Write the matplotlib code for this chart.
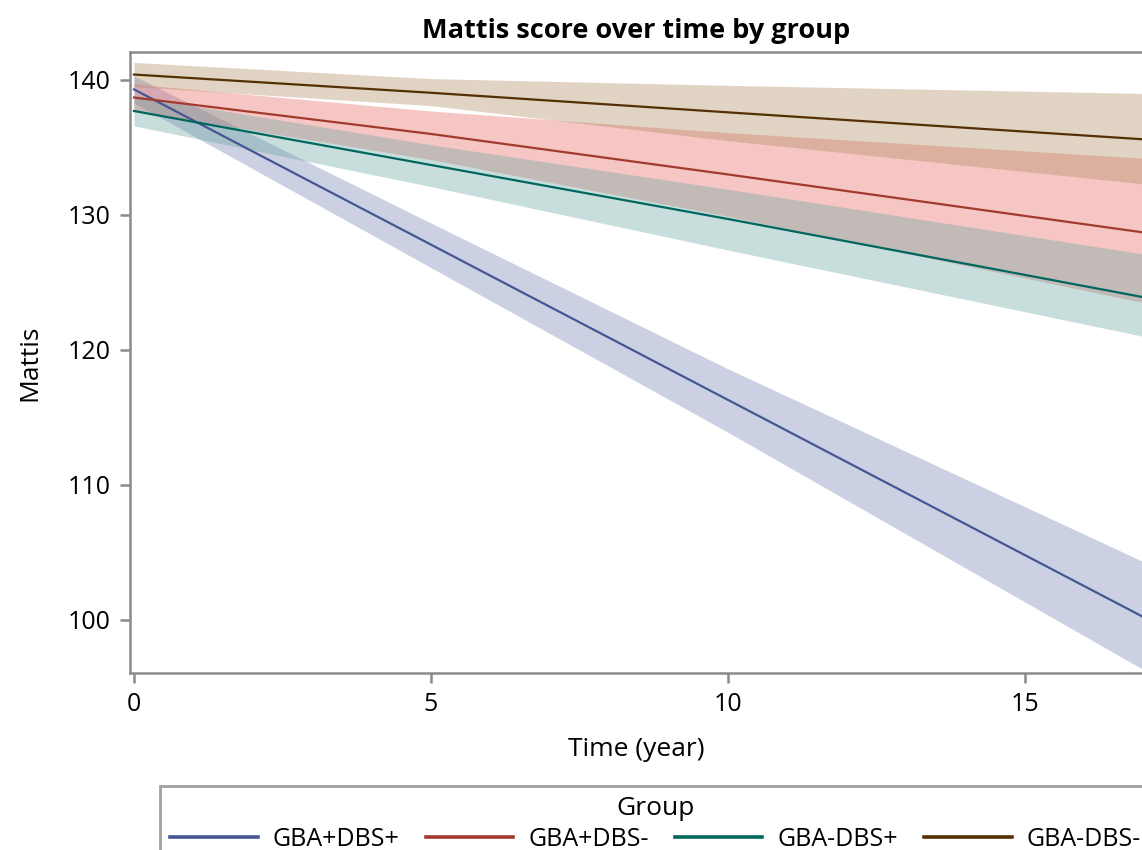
import numpy as np
import matplotlib.pyplot as plt

# time points (years) where values were read
time = [0, 5, 10, 17]

groups = ["GBA+DBS+", "GBA+DBS-", "GBA-DBS+", "GBA-DBS-"]

# estimated Mattis score per group
est_gba_dbs_pos = [139.3, 127.8, 116.3, 100.2]
est_gba_nodbs = [138.7, 136.0, 133.0, 128.7]
est_nogba_dbs = [137.7, 133.7, 129.7, 123.9]
est_nogba_nodbs = [140.4, 139.05, 137.6, 135.6]

# lower / upper confidence limits
lo_gba_dbs_pos = [138.3, 126.1, 113.9, 96.3]
hi_gba_dbs_pos = [140.3, 129.4, 118.6, 104.3]
lo_gba_nodbs = [137.7, 134.1, 129.9, 123.5]
hi_gba_nodbs = [139.7, 137.7, 136.1, 134.2]
lo_nogba_dbs = [136.6, 132.1, 127.4, 121.0]
hi_nogba_dbs = [138.8, 135.2, 131.9, 127.1]
lo_nogba_nodbs = [139.5, 138.1, 135.5, 132.3]
hi_nogba_nodbs = [141.3, 140.1, 139.6, 139.0]

estimates = [est_gba_dbs_pos, est_gba_nodbs, est_nogba_dbs, est_nogba_nodbs]
lowers = [lo_gba_dbs_pos, lo_gba_nodbs, lo_nogba_dbs, lo_nogba_nodbs]
uppers = [hi_gba_dbs_pos, hi_gba_nodbs, hi_nogba_dbs, hi_nogba_nodbs]

line_colors = ["#445694", "#A23A2E", "#01665E", "#543005"]
fill_colors = ["#6F7EB3", "#E8625C", "#66A5A0", "#B08A5E"]

plt.rcParams['font.family'] = ['Open Sans', 'DejaVu Sans']

fig = plt.figure(figsize=(11.42, 8.5), dpi=100)
ax = fig.add_axes([130 / 1142, 1 - 673 / 850, 1 - 130 / 1142, (673 - 52) / 850])

for i in range(len(groups)):
    ax.fill_between(time, lowers[i], uppers[i], color=fill_colors[i], alpha=0.36, linewidth=0)
for i in range(len(groups)):
    ax.plot(time, estimates[i], color=line_colors[i], linewidth=1.6, label=groups[i])

ax.set_xlim(-0.067, 16.97)
ax.set_ylim(96.07, 142.07)
ax.set_xticks([0, 5, 10, 15])
ax.set_yticks([100, 110, 120, 130, 140])

for s in ["left", "bottom", "top"]:
    ax.spines[s].set_color("#8a8a8a")
    ax.spines[s].set_linewidth(1.8)
ax.spines["right"].set_visible(False)
ax.tick_params(colors="#8a8a8a", width=1.8, length=7, labelsize=18, labelcolor="black", pad=7)

ax.set_xlabel("Time (year)", fontsize=19, labelpad=14)
ax.set_ylabel("Mattis", fontsize=19, labelpad=18)
ax.set_title("Mattis score over time by group", fontsize=19.5, fontweight="bold", pad=10)

leg = fig.legend(loc="upper left", bbox_to_anchor=(160 / 1142, 1 - 786 / 850), ncol=4,
                 title="Group", fontsize=18, title_fontsize=19, frameon=True, fancybox=False,
                 handlelength=3.5, handletextpad=0.6, columnspacing=1.05, borderpad=0.4,
                 labelspacing=0.22, borderaxespad=0.0)
leg.get_frame().set_edgecolor("#8a8a8a")
leg.get_frame().set_linewidth(2.0)
for h in leg.get_lines():
    h.set_linewidth(2.6)

fig.savefig("out.png", dpi=100)
